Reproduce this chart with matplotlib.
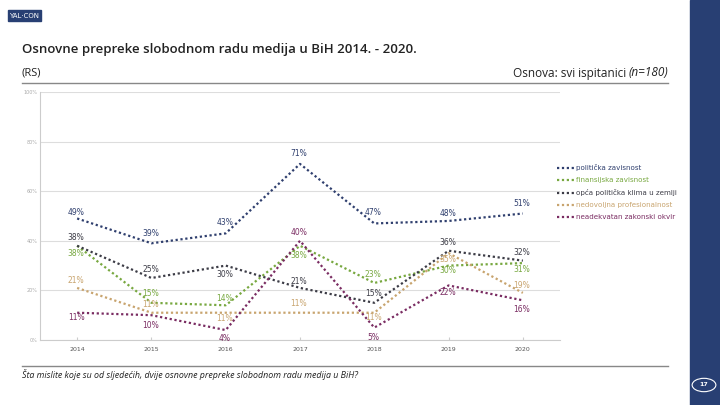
import numpy as np
import matplotlib.pyplot as plt
from matplotlib.patches import Rectangle, Circle
from matplotlib.lines import Line2D

years = [2014, 2015, 2016, 2017, 2018, 2019, 2020]

series_names = ['politička zavisnost', 'finansijska zavisnost', 'opća politička klima u zemlji',
                'nedovoljna profesionalnost', 'neadekvatan zakonski okvir']
politicka = [49, 39, 43, 71, 47, 48, 51]
finansijska = [38, 15, 14, 38, 23, 30, 31]
klima = [38, 25, 30, 21, 15, 36, 32]
profesionalnost = [21, 11, 11, 11, 11, 35, 19]
zakonski = [11, 10, 4, 40, 5, 22, 16]

yticks = [0, 20, 40, 60, 80, 100]

colors = ['#2f3f6e', '#78a840', '#3c3c46', '#c8a46e', '#7a2c62']
# label offsets in pixels (vertical), per series / per year
offsets = [
    [6, 10, 11, 10, 11, 7, 10],
    [-8, 9, 7, -10, 8, -5, -6],
    [8, 9, -9, 6, 9, 8, 8],
    [7, 8, -6, 9, -5, -6, 7],
    [-5, -10, -8, 8, -10, -7, -9],
]
values = [politicka, finansijska, klima, profesionalnost, zakonski]

fig = plt.figure(figsize=(7.2, 4.05), dpi=100)
W, H = 720.0, 405.0

# right navy bar
fig.patches.append(Rectangle((690 / W, 0), 30 / W, 1, transform=fig.transFigure,
                             color='#283f73', zorder=0))
fig.patches.append(Circle((704 / W, 1 - 385 / H), 0.0165, transform=fig.transFigure,
                          facecolor='none', edgecolor='white', lw=0.8))
fig.text(704 / W, 1 - 385 / H, '17', color='white', fontsize=4.5, ha='center', va='center',
         fontweight='bold')

# logo
fig.patches.append(Rectangle((8 / W, 1 - 21 / H), 33 / W, 11 / H, transform=fig.transFigure,
                             color='#283f73'))
fig.text(24.5 / W, 1 - 15.5 / H, 'YAL·CON', color='white', fontsize=5, ha='center', va='center')

# header
fig.text(22 / W, 1 - 50 / H, 'Osnovne prepreke slobodnom radu medija u BiH 2014. - 2020.',
         fontsize=9.5, color='#222222', va='center', family='Open Sans', fontweight='semibold')
fig.text(22 / W, 1 - 73 / H, '(RS)', fontsize=8, color='#222222', va='center', family='Open Sans')
fig.text(668 / W, 1 - 73 / H, '(n=180)', fontsize=8.5, color='#222222', va='center',
         ha='right', family='Open Sans', style='italic')
fig.text(626 / W, 1 - 73 / H, 'Osnova: svi ispitanici', fontsize=8.5, color='#222222',
         va='center', ha='right', family='Open Sans')
fig.add_artist(Line2D([22 / W, 668 / W], [1 - 83 / H, 1 - 83 / H], color='#888888', lw=1))

# footer
fig.add_artist(Line2D([22 / W, 668 / W], [1 - 366 / H, 1 - 366 / H], color='#888888', lw=1))
fig.text(22 / W, 1 - 374 / H, 'Šta mislite koje su od sljedećih, dvije osnovne prepreke slobodnom radu medija u BiH?',
         fontsize=6.4, color='#222222', va='center', style='italic', family='Open Sans')

ax = fig.add_axes([40 / W, 1 - 340 / H, 520 / W, 248 / H])
for name, vals, col, offs in zip(series_names, values, colors, offsets):
    ax.plot(years, vals, linestyle=(0, (1, 1.2)), lw=1.6, color=col, label=name)
    for x, v, o in zip(years, vals, offs):
        ax.annotate(f'{v}%', (x, v), xytext=(-1, o), textcoords='offset pixels',
                    ha='center', va='center', fontsize=5.5, color=col)

ax.set_xlim(2013.5, 2020.5)
ax.set_ylim(0, 100)
ax.set_yticks(yticks)
ax.set_yticklabels([f'{t}%' for t in yticks], fontsize=3.5, color='#aaaaaa')
ax.set_xticks(years)
ax.set_xticklabels([str(y) for y in years], fontsize=4.5, color='#555555')
ax.grid(axis='y', color='#dddddd', lw=0.8)
ax.set_axisbelow(True)
for s in ['top', 'right']:
    ax.spines[s].set_visible(False)
ax.spines['left'].set_color('#cccccc')
ax.spines['bottom'].set_color('#cccccc')
ax.tick_params(axis='y', length=0, pad=2)
ax.tick_params(axis='x', length=2, color='#cccccc', direction='in', pad=5)

leg = ax.legend(loc='upper left', bbox_to_anchor=(551 / W, 1 - 158 / H), bbox_transform=fig.transFigure,
                frameon=False, fontsize=5.1, handlelength=2.5, handletextpad=0.2, labelspacing=0.85)
for t, c in zip(leg.get_texts(), colors):
    t.set_color(c)

fig.savefig('out.png', dpi=100)
